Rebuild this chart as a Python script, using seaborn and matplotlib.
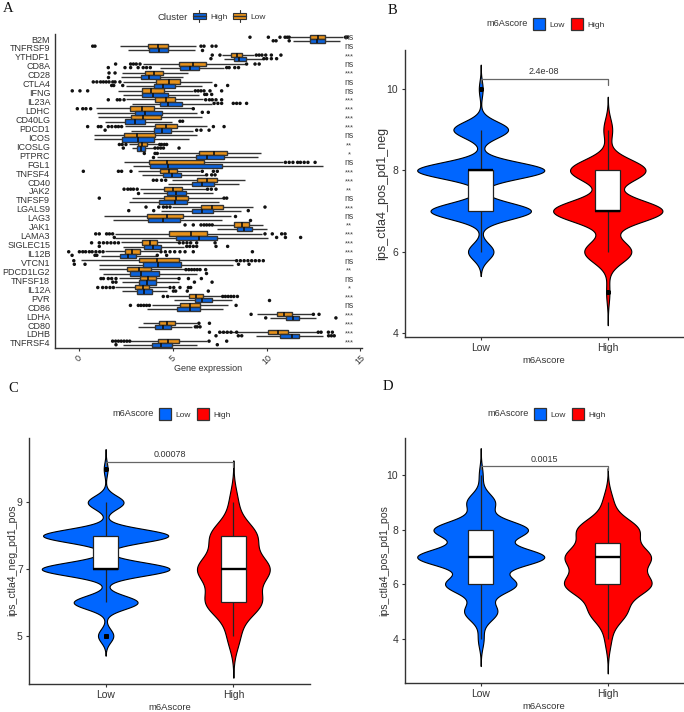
import numpy as np
import pandas as pd
import matplotlib
matplotlib.use("Agg")
import matplotlib.pyplot as plt
from matplotlib.legend_handler import HandlerPatch
from matplotlib.lines import Line2D
from matplotlib.patches import Patch, Rectangle
import seaborn as sns

# ---- panel A: box summaries ----
genes = ["B2M", "TNFRSF9", "YTHDF1", "CD8A", "CD28", "CTLA4", "IFNG", "IL23A", "LDHC", "CD40LG", "PDCD1", "ICOS",
         "ICOSLG", "PTPRC", "FGL1", "TNFSF4", "CD40", "JAK2", "TNFSF9", "LGALS9", "LAG3", "JAK1", "LAMA3", "SIGLEC15",
         "IL12B", "VTCN1", "PDCD1LG2", "TNFSF18", "IL12A", "PVR", "CD86", "LDHA", "CD80", "LDHB", "TNFRSF4"]
signif = ["ns", "ns", "***", "ns", "***", "ns", "ns", "***", "***", "***", "***", "ns",
          "**", "*", "ns", "***", "***", "**", "ns", "***", "ns", "**", "***", "***",
          "***", "ns", "**", "ns", "*", "***", "ns", "***", "***", "***", "***"]

low_lo = [11.24, 2.18, 7.6, 3.43, 2.27, 2.36, 2.1, 2.5, 0.89, 1.03, 2.45, 0.8,
          2.68, 4.28, 2.4, 3.14, 4.94, 3.25, 2.82, 4.94, 1.35, 7.16, 1.92, 2.22,
          1.39, 0.11, 1.07, 2.15, 1.92, 4.81, 3.87, 9.5, 3.43, 7.47, 2.72]
low_q1 = [12.31, 3.69, 8.12, 5.35, 3.53, 4.12, 3.37, 4.07, 2.72, 2.77, 4.07, 2.4,
          3.14, 6.41, 3.75, 4.33, 6.3, 4.55, 4.55, 6.52, 3.64, 8.28, 4.81, 3.37,
          2.47, 3.18, 2.58, 3.25, 3.0, 5.88, 5.38, 10.53, 4.26, 10.05, 4.23]
low_med = [12.75, 4.23, 8.44, 6.06, 4.0, 4.78, 3.84, 4.62, 3.34, 3.39, 4.62, 3.07,
           3.37, 7.19, 4.67, 4.8, 6.8, 5.03, 5.17, 7.09, 4.71, 8.7, 5.95, 3.78,
           2.84, 4.17, 3.21, 3.66, 3.39, 6.22, 5.91, 10.94, 4.67, 10.59, 4.76]
low_q3 = [13.09, 4.76, 8.69, 6.75, 4.49, 5.36, 4.51, 5.12, 4.0, 4.35, 5.2, 4.07,
          3.61, 7.87, 6.64, 5.24, 7.37, 5.5, 5.83, 7.66, 5.52, 9.04, 6.8, 4.17,
          3.23, 5.31, 3.85, 4.09, 3.75, 6.59, 6.45, 11.33, 5.1, 11.15, 5.31]
low_hi = [14.07, 6.23, 9.3, 8.85, 5.83, 7.07, 6.09, 6.63, 6.0, 6.54, 6.8, 6.27,
          4.23, 9.68, 10.89, 6.45, 8.85, 6.8, 7.69, 9.29, 8.08, 9.79, 9.73, 5.29,
          4.28, 8.31, 5.65, 5.26, 4.76, 7.6, 7.96, 12.43, 6.27, 12.66, 6.8]

high_lo = [11.38, 2.63, 7.73, 4.32, 2.22, 2.5, 2.36, 2.8, 0.98, 1.39, 2.77, 0.8,
           2.8, 4.14, 2.9, 3.34, 4.76, 3.4, 2.68, 4.35, 1.79, 7.37, 1.92, 2.33,
           1.17, 1.08, 1.3, 2.29, 2.27, 5.06, 3.64, 10.18, 3.16, 9.43, 2.33]
high_q1 = [12.31, 3.73, 8.28, 5.4, 3.32, 4.01, 3.37, 4.3, 3.0, 2.47, 3.98, 2.31,
           3.11, 6.22, 3.78, 4.49, 6.02, 4.67, 4.25, 6.04, 3.66, 8.44, 5.19, 3.46,
           2.2, 3.39, 2.72, 3.21, 3.07, 6.2, 5.24, 11.03, 4.07, 10.73, 3.87]
high_med = [12.66, 4.26, 8.54, 5.92, 3.75, 4.5, 3.96, 4.76, 3.52, 2.98, 4.4, 3.16,
            3.29, 6.8, 4.76, 4.97, 6.57, 5.17, 5.12, 6.55, 4.49, 8.81, 6.39, 3.93,
            2.63, 4.23, 3.29, 3.64, 3.46, 6.57, 5.91, 11.42, 4.49, 11.33, 4.37]
high_q3 = [13.09, 4.76, 8.88, 6.39, 4.3, 5.1, 4.72, 5.47, 4.4, 3.52, 4.88, 4.01,
           3.5, 7.73, 7.6, 5.42, 7.19, 5.68, 5.74, 7.12, 5.36, 9.2, 7.34, 4.35,
           3.02, 5.43, 4.25, 4.1, 3.87, 7.07, 6.45, 11.74, 4.92, 11.74, 4.94]
high_hi = [13.91, 6.18, 9.8, 7.75, 5.52, 6.57, 6.39, 7.1, 6.27, 4.94, 6.09, 5.88,
           3.98, 9.56, 13.02, 6.7, 8.54, 7.16, 7.48, 8.61, 7.6, 10.0, 10.09, 5.6,
           4.14, 8.22, 6.27, 5.33, 4.67, 8.13, 7.69, 12.63, 6.04, 13.0, 6.31]

low_out = [[9.11, 10.09, 10.71, 10.98, 11.1, 11.2, 14.2, 14.3], [0.73, 0.85, 6.5, 6.66, 7.09, 7.3],
           [7.1, 7.51, 9.45, 9.6, 9.75, 9.95, 10.25, 10.76], [1.95, 2.75, 2.9, 3.05, 3.25, 8.93, 9.38, 9.6],
           [1.6, 1.92], [0.76, 0.95, 1.15, 1.3, 1.45, 1.6, 1.8, 1.92, 2.18], [-0.36, 0.05, 0.46, 6.2, 6.35, 6.5, 6.66, 6.98, 7.6],
           [1.56, 2.04, 2.18, 2.4, 6.75, 6.95, 7.1, 7.3, 7.6], [-0.09, 0.2, 0.37, 0.62, 6.09], [],
           [0.46, 1.03, 1.17, 1.56, 1.75, 1.95, 2.1, 2.27, 7.16, 7.73], [], [2.15, 2.3, 2.5, 4.3, 4.4, 4.55, 4.67],
           [3.48, 4.05, 4.17], [11.0, 11.2, 11.4, 11.65, 11.8, 12.0, 12.2, 12.58], [0.23, 2.1, 2.27, 2.77, 6.57, 7.16, 7.37],
           [3.96, 4.14, 4.4, 4.62], [2.4, 2.6, 2.75, 2.9, 3.1, 6.85, 7.05, 7.3], [1.08, 7.73, 7.87],
           [3.57, 4.25, 4.5, 4.67, 4.85, 9.91], [8.33], [5.65, 6.09, 6.5, 6.66, 6.8, 6.95, 7.1],
           [0.89, 1.08, 1.47, 1.62, 1.79, 9.91, 10.3, 10.8, 10.98], [0.67, 1.08, 1.3, 1.5, 1.7, 1.9, 2.1, 5.35, 5.55, 5.75, 5.95, 6.27, 7.25],
           [-0.55, 0.02, 0.2, 0.35, 0.55, 0.7, 0.9, 1.1, 1.28, 4.37, 4.6, 4.85, 5.1, 5.38, 5.65, 6.09, 9.24],
           [-0.28, 8.4, 8.6, 8.8, 9.0, 9.2, 9.4, 9.6, 9.82], [5.7, 5.85, 6.0, 6.15, 6.3, 6.45, 6.75],
           [1.17, 1.3, 1.56, 1.74, 1.97, 5.33, 5.83, 6.52], [1.0, 1.26, 1.45, 1.65, 1.83, 4.85, 5.05, 5.38, 5.83, 5.95],
           [4.49, 4.72, 7.66, 7.8, 7.95, 8.1, 8.25, 8.44], [2.74, 3.16, 3.3, 3.45, 3.6, 3.75, 8.37], [9.17, 12.49, 12.79],
           [6.39, 6.95], [6.95, 7.5, 7.7, 7.9, 8.1, 8.4, 12.75, 12.9, 13.29, 13.5], [1.79, 1.95, 2.1, 2.25, 2.4, 2.55, 2.7, 6.93, 7.87]]
high_out = [[10.35, 10.5, 11.2], [6.53], [7.03, 9.85, 10.0, 10.25, 10.53], [1.56, 2.45, 2.75, 3.15, 3.42, 3.6, 3.8, 7.87, 8.0, 8.3, 8.5],
            [1.56], [1.74, 1.85, 2.33, 7.28, 7.92], [6.7, 6.8, 7.07], [7.2, 7.4, 7.6, 8.22, 8.4, 8.58, 8.93],
            [6.57, 6.89], [5.38, 5.52], [1.39, 6.27, 6.5, 6.93], [], [2.36, 4.05, 4.2, 4.35, 4.5, 5.33], [3.96], [],
            [6.8, 7.07, 7.25], [], [3.13], [], [2.65, 3.98, 9.02], [9.11], [], [1.88, 10.53, 11.0, 11.81],
            [1.08, 5.74, 5.9, 6.09, 6.27, 7.3, 7.92], [-0.37, 0.85, 0.95, 4.17, 4.67], [-0.25, 0.32, 8.5, 9.06], [6.75],
            [1.8, 1.97, 6.15, 7.09], [5.03, 5.15, 5.77, 6.89], [10.14], [], [9.95, 13.69], [6.2, 6.3, 6.45],
            [7.3, 8.49, 8.67, 13.3, 13.45, 13.6], [1.97, 7.37]]

# ---- panels B, C, D: how many samples sit on each score ----
groups = ["Low", "High"]
b_scores = [5, 6, 7, 8, 9, 10]
b_low = [0, 20, 79, 100, 43, 3]
b_high = [3, 43, 100, 69, 8, 0]
c_scores = [5, 6, 7, 8, 9, 10]
c_low = [12, 50, 100, 98, 28, 3]
c_high = [15, 66, 85, 55, 10, 0]
d_scores = [4, 5, 6, 7, 8, 9, 10]
d_low = [6, 35, 75, 135, 100, 30, 4]
d_high = [5, 30, 70, 68, 50, 8, 0]

BLUE = "#0066FF"
RED = "#FF0000"
BOX_BLUE = "#0A62DC"
BOX_ORANGE = "#E8921A"
DARK = "#333333"
W, H = 684, 712

sns.set_theme(style="ticks")
plt.rcParams["font.family"] = ["Liberation Sans", "DejaVu Sans"]

fig = plt.figure(figsize=(W / 100, H / 100), dpi=100)


def px_axes(left, top, right, bottom):
    ax = fig.add_axes([left / W, 1 - bottom / H, (right - left) / W, (bottom - top) / H])
    sns.despine(ax=ax)
    for s in ["left", "bottom"]:
        ax.spines[s].set_color(DARK)
        ax.spines[s].set_linewidth(1.0)
    ax.tick_params(colors=DARK, length=2.5, width=0.8, pad=2)
    return ax


class BoxKey(HandlerPatch):
    # little sideways boxplot for the legend of panel A
    def create_artists(self, legend, orig, xd, yd, w, h, fs, trans):
        mid = yd * -1 + h / 2
        box = Rectangle((-xd, -yd), w, h, fc=orig.get_facecolor(), ec=DARK, lw=0.8, transform=trans)
        across = Line2D([-xd, -xd + w], [mid, mid], color=DARK, lw=1.0, transform=trans)
        up = Line2D([-xd + w / 2] * 2, [-yd - 2, -yd + h + 2], color=DARK, lw=0.8, zorder=0, transform=trans)
        return [up, box, across]


def key_legend(ax, handles, labels, x, y, title, handlelength, handleheight, fontsize=6, title_size=6.8, handler=None):
    leg = ax.legend(handles, labels, ncol=2, loc="center left", bbox_to_anchor=(x / W, 1 - y / H),
                    bbox_transform=fig.transFigure, frameon=False, fontsize=fontsize, borderpad=0, borderaxespad=0,
                    handlelength=handlelength, handleheight=handleheight, handletextpad=0.55, columnspacing=0.7,
                    handler_map=handler)
    for t in leg.get_texts():
        t.set_color(DARK)
    fig.text((x - 5) / W, 1 - y / H, title, ha="right", va="center", fontsize=title_size, color=DARK)


# ---- panel A ----
rows = []
for name, lo, q1, med, q3, hi in [("Low", low_lo, low_q1, low_med, low_q3, low_hi),
                                  ("High", high_lo, high_q1, high_med, high_q3, high_hi)]:
    rows.append(pd.DataFrame({"gene": genes * 5, "Cluster": name, "value": lo + q1 + med + q3 + hi}))
box_df = pd.concat(rows)
out_rows = []
for name, outs in [("Low", low_out), ("High", high_out)]:
    for g, vals in zip(genes, outs):
        out_rows.extend((g, name, v) for v in vals)
out_df = pd.DataFrame(out_rows, columns=["gene", "Cluster", "value"])

ax_a = px_axes(55, 34, 362, 348.3)
sns.boxplot(data=box_df, x="value", y="gene", hue="Cluster", order=genes, hue_order=groups, whis=(0, 100),
            showfliers=False, showcaps=False, width=0.95, gap=0, linewidth=1.0, linecolor=DARK, saturation=1,
            palette={"Low": BOX_ORANGE, "High": BOX_BLUE}, legend=False, ax=ax_a,
            medianprops={"linewidth": 1.2, "color": "#111111"})
sns.stripplot(data=out_df, x="value", y="gene", hue="Cluster", order=genes, hue_order=groups, dodge=True, jitter=False,
              size=2.5, palette={"Low": "#111111", "High": "#111111"}, legend=False, ax=ax_a)
ax_a.set_xlim(-1.28, 15.08)
ax_a.set_ylim(34.6, -0.56)
ax_a.set_xticks([0, 5, 10, 15])
ax_a.tick_params(axis="x", labelsize=6.5, labelrotation=45, pad=1)
ax_a.tick_params(axis="y", labelsize=6.5, length=0, pad=3.5)
ax_a.set_ylabel("")
ax_a.set_xlabel("Gene expression", fontsize=6.5, color=DARK)
ax_a.xaxis.set_label_coords(0.5, -0.05)
for i, s in enumerate(signif):
    ax_a.text(14.4, i + (-0.15 if s == "ns" else -0.05), s, ha="center", va="center",
              fontsize=6.2 if s == "ns" else 5.5, color="#444444")
key_legend(ax_a, [Patch(fc=BOX_BLUE), Patch(fc=BOX_ORANGE)], ["High", "Low"], 193, 17, "Cluster", 1.5, 0.8,
           handler={Patch: BoxKey()})


# ---- panels B, C, D ----
def violin_panel(rect, scores, low, high, bw, widths, ylim, yticks, ylabel, ylabel_size, label_x, p_text, p_y, legend_x,
                 legend_y, title_size, key_h):
    ax = px_axes(*rect)
    frames = []
    for name, counts in zip(groups, [low, high]):
        frames.append(pd.DataFrame({"m6Ascore": name, "score": np.repeat(scores, counts)}))
    df = pd.concat(frames)
    for name, colour, b, w in zip(groups, [BLUE, RED], bw, widths):
        sub = df[df["m6Ascore"] == name]
        sns.violinplot(data=sub, x="m6Ascore", y="score", order=groups, color=colour, saturation=1, inner=None, cut=3,
                       bw_method=b / sub["score"].std(), density_norm="width", width=w, linewidth=0.8,
                       linecolor="black", gridsize=300, ax=ax)
    sns.boxplot(data=df, x="m6Ascore", y="score", order=groups, color="white", saturation=1, width=0.2, linewidth=0.9,
                linecolor="#222222", fliersize=2.6, showcaps=False, medianprops={"linewidth": 1.7, "color": "black"},
                flierprops={"markerfacecolor": "black", "markeredgecolor": "black"}, ax=ax)
    ax.set_xlim(-0.6, 1.6)
    ax.set_ylim(*ylim)
    ax.set_yticks(yticks)
    ax.tick_params(labelsize=7.5)
    ax.set_xlabel("m6Ascore", fontsize=6.8, color=DARK, labelpad=2)
    ax.set_ylabel(ylabel, fontsize=ylabel_size, color=DARK)
    ax.yaxis.set_label_coords((label_x - rect[0]) / (rect[2] - rect[0]), 0.5)
    ax.plot([0, 0, 1, 1], [p_y - 0.1, p_y, p_y, p_y - 0.15], color="#666666", lw=0.9)
    ax.text(0.5, p_y + 0.08, p_text, ha="center", va="bottom", fontsize=6.5, color=DARK)
    key_legend(ax, [Patch(fc=BLUE, ec=DARK, lw=0.9), Patch(fc=RED, ec=DARK, lw=0.9)], groups, legend_x, legend_y,
               "m6Ascore", 1.45, key_h, title_size=title_size)
    return ax


violin_panel((404.5, 50, 684, 337), b_scores, b_low, b_high, [0.2, 0.27], [1.0, 0.86], (3.9, 10.96), [4, 6, 8, 10],
             "ips_ctla4_pos_pd1_neg", 9, 388, "2.4e-08", 10.25, 532.7, 24, 6.6, 2.0)
violin_panel((29, 437.7, 310, 683.7), c_scores, c_low, c_high, [0.2, 0.42], [1.0, 0.57], (3.56, 10.94), [5, 7, 9],
             "ips_ctla4_neg_pd1_pos", 7.6, 17, "0.00078", 10.22, 159, 414, 6.6, 1.7)
violin_panel((404.5, 437.7, 684, 682.7), d_scores, d_low, d_high, [0.33, 0.42], [1.0, 0.69], (2.4, 11.37), [4, 6, 8, 10],
             "ips_ctla4_pos_pd1_pos", 7.6, 389, "0.0015", 10.34, 534, 414, 6.6, 1.7)

# panel letters
for letter, x, y in [("A", 8, 8), ("B", 392, 10), ("C", 13, 388), ("D", 388, 386)]:
    fig.text(x / W, 1 - y / H, letter, ha="center", va="center", fontsize=10.5, family="Liberation Serif", color="#111111")

fig.savefig("out.png", dpi=100)
